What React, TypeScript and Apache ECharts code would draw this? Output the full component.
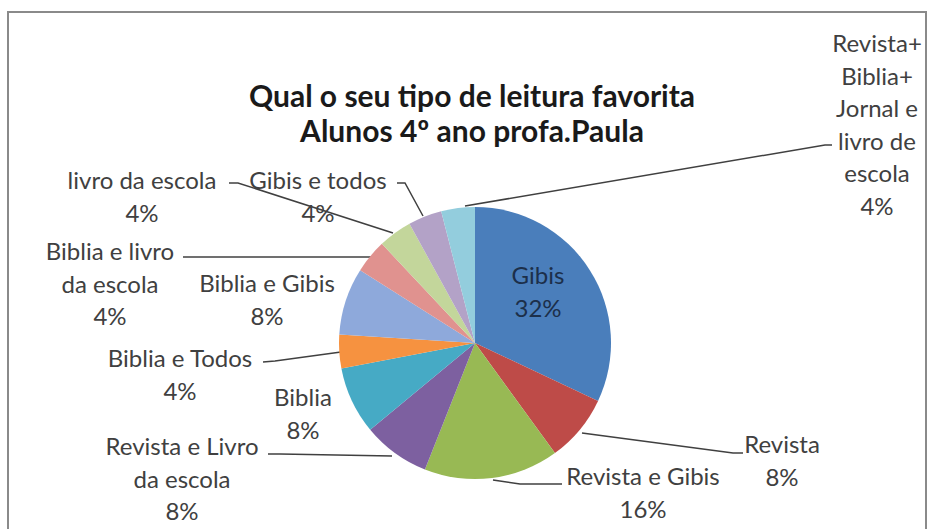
import React, { useEffect, useRef } from "react";
import * as echarts from "echarts";

const titleLines = ["Qual o seu tipo de leitura favorita", "Alunos 4º ano profa.Paula"];
const categories = [
  "Gibis",
  "Revista",
  "Revista e Gibis",
  "Revista e Livro\nda escola",
  "Biblia",
  "Biblia e Todos",
  "Biblia e Gibis",
  "Biblia e livro\nda escola",
  "livro da escola",
  "Gibis e todos",
  "Revista+\nBiblia+\nJornal e\nlivro de\nescola",
];
const values = [8, 2, 4, 2, 2, 1, 2, 1, 1, 1, 1];
const colors = [
  "#4A7EBB", "#BE4B48", "#98B954", "#7D60A0", "#46AAC5", "#F69240",
  "#8EA9DB", "#E0928F", "#C3D69B", "#B3A2C7", "#93CDDD",
];

// label block centres and leader lines (layout only)
const labelPos: number[][] = [
  [538, 291], [782, 460], [643, 492], [182, 478], [303, 413], [180, 374],
  [267, 299], [110, 283], [142, 196], [318, 196], [877, 124],
];
const leaders: (number[][] | null)[] = [
  null,
  [[582, 433], [733, 453], [743, 453]],
  [[493, 480], [520, 484], [562, 484]],
  [[392, 456], [280, 454], [268, 454]],
  null,
  [[341, 352], [275, 361], [263, 362]],
  null,
  [[372, 257], [200, 257], [183, 257]],
  [[393, 233], [238, 183], [229, 183]],
  [[423, 216], [405, 183], [397, 183]],
  [[465, 206], [825, 145], [832, 145]],
];

export default function App() {
  const ref = useRef<HTMLDivElement>(null);
  useEffect(() => {
    const chart = echarts.init(ref.current!, null, { renderer: "svg" });
    chart.setOption({
      animation: false,
      backgroundColor: "#ffffff",
      title: {
        text: titleLines.join("\n"),
        left: 467,
        top: 72,
        textAlign: "center",
        textStyle: {
          fontFamily: "Lato",
          fontWeight: "bold",
          fontSize: 30,
          lineHeight: 35,
          color: "#1a1a1a",
        },
      },
      graphic: [
        {
          type: "rect",
          shape: { x: 8, y: 12, width: 918, height: 540 },
          style: { fill: "none", stroke: "#8a8a8a", lineWidth: 2 },
          silent: true,
        },
      ],
      series: [
        {
          type: "pie",
          center: [475, 343],
          radius: 136,
          startAngle: 90,
          clockwise: true,
          data: categories.map((c, i) => ({
            name: c,
            value: values[i],
            itemStyle: { color: colors[i] },
            labelLine: { show: leaders[i] !== null },
            label: i === 0 ? { color: "#1c2f4a" } : undefined,
          })),
          itemStyle: { borderWidth: 0 },
          label: {
            show: true,
            position: "outside",
            formatter: (p: any) => `${p.name}\n${Math.round(p.percent)}%`,
            fontFamily: "Lato",
            fontSize: 24,
            lineHeight: 32.5,
            color: "#404040",
            align: "center",
          },
          labelLine: {
            show: true,
            lineStyle: { color: "#404040", width: 1.5 },
          },
          labelLayout: (params: any) => {
            const i = params.dataIndex;
            const res: any = {
              x: labelPos[i][0],
              y: labelPos[i][1],
              align: "center",
              verticalAlign: "middle",
            };
            if (leaders[i]) res.labelLinePoints = leaders[i];
            return res;
          },
        },
      ],
    });
    return () => chart.dispose();
  }, []);
  return (
    <div
      ref={ref}
      style={{ position: "absolute", left: 0, top: 0, width: 928, height: 529 }}
    />
  );
}
